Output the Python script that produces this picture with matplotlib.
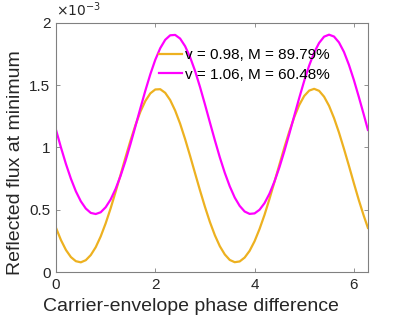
import matplotlib
matplotlib.use("Agg")
import matplotlib.pyplot as plt

plt.rcParams['font.family'] = ['Liberation Sans', 'DejaVu Sans']

# phase values (rad)
phase = [0.0, 0.1, 0.2, 0.3, 0.4, 0.5, 0.6, 0.7, 0.8, 0.9, 1.0, 1.1, 1.2,
         1.3, 1.4, 1.5, 1.6, 1.7, 1.8, 1.9, 2.0, 2.1, 2.2, 2.3, 2.4, 2.5,
         2.6, 2.7, 2.8, 2.9, 3.0, 3.1, 3.2, 3.3, 3.4, 3.5, 3.6, 3.7, 3.8,
         3.9, 4.0, 4.1, 4.2, 4.3, 4.4, 4.5, 4.6, 4.7, 4.8, 4.9, 5.0, 5.1,
         5.2, 5.3, 5.4, 5.5, 5.6, 5.7, 5.8, 5.9, 6.0, 6.1, 6.2, 6.2832]

# reflected flux, units of 1e-3
flux_v098 = [0.356, 0.258, 0.179, 0.122, 0.089, 0.080, 0.097, 0.138, 0.201,
             0.287, 0.392, 0.512, 0.644, 0.781, 0.921, 1.055, 1.179, 1.287,
             1.373, 1.434, 1.465, 1.467, 1.438, 1.380, 1.296, 1.191, 1.068,
             0.934, 0.795, 0.657, 0.525, 0.403, 0.297, 0.209, 0.143, 0.099,
             0.081, 0.087, 0.118, 0.172, 0.249, 0.347, 0.460, 0.588, 0.724,
             0.863, 1.000, 1.129, 1.244, 1.341, 1.413, 1.456, 1.470, 1.454,
             1.407, 1.334, 1.236, 1.120, 0.990, 0.854, 0.714, 0.578, 0.452,
             0.356]
flux_v106 = [1.141, 1.000, 0.868, 0.750, 0.649, 0.569, 0.511, 0.476, 0.467,
             0.481, 0.521, 0.583, 0.668, 0.772, 0.893, 1.028, 1.170, 1.315,
             1.456, 1.587, 1.703, 1.796, 1.863, 1.899, 1.902, 1.873, 1.812,
             1.725, 1.615, 1.486, 1.346, 1.201, 1.058, 0.921, 0.797, 0.689,
             0.599, 0.532, 0.487, 0.468, 0.472, 0.501, 0.554, 0.630, 0.727,
             0.841, 0.971, 1.110, 1.255, 1.398, 1.534, 1.657, 1.761, 1.838,
             1.888, 1.904, 1.889, 1.842, 1.766, 1.663, 1.541, 1.405, 1.263,
             1.141]

labels = ['v = 0.98, M = 89.79%', 'v = 1.06, M = 60.48%']

fig = plt.figure(figsize=(4.07, 3.21), dpi=100)
ax = fig.add_axes([0.1376, 0.1517, 0.7664, 0.7776])

ax.plot(phase, flux_v098, color='#EDB120', lw=1.6, label=labels[0])
ax.plot(phase, flux_v106, color='#FF00FF', lw=1.6, label=labels[1])

ax.set_xlim(0, 6.2832)
ax.set_ylim(0, 2)
ax.set_xticks([0, 2, 4, 6])
ax.set_yticks([0, 0.5, 1, 1.5, 2])
ax.set_yticklabels(['0', '0.5', '1', '1.5', '2'])

for s in ax.spines.values():
    s.set_color('#808080')
    s.set_linewidth(0.8)
ax.tick_params(direction='in', top=True, right=True, length=3, width=0.6,
               color='#808080', labelsize=11, labelcolor='#262626', pad=4)

ax.set_xlabel('Carrier-envelope phase difference', fontsize=14, color='#262626')
ax.set_ylabel('Reflected flux at minimum', fontsize=14, color='#262626')
ax.xaxis.set_label_coords(0.431, -0.103)
ax.yaxis.set_label_coords(-0.103, 0.438)
ax.text(0.0, 1.015, r'$\times10^{-3}$', transform=ax.transAxes, fontsize=10,
        color='#262626', va='bottom', ha='left')

ax.legend(loc='upper left', bbox_to_anchor=(0.33, 0.897), frameon=False,
          fontsize=11, handlelength=1.5, handletextpad=0.2, labelspacing=0.35,
          borderpad=0, borderaxespad=0)

fig.savefig('out.png', dpi=100)
